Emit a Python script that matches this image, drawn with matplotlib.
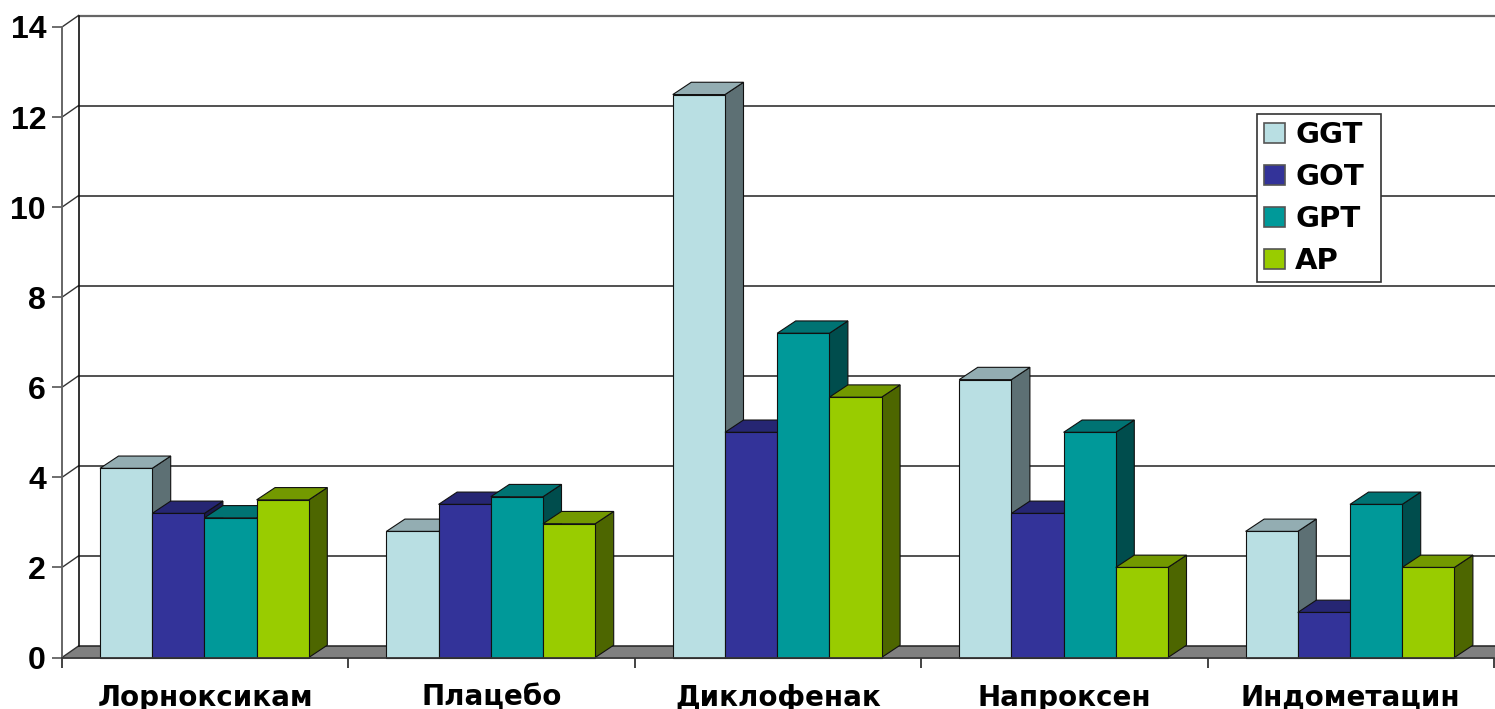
import matplotlib
matplotlib.use("Agg")
import matplotlib.pyplot as plt
from matplotlib.patches import Patch

plt.rcParams['font.family'] = ['Liberation Sans', 'DejaVu Sans']

categories = ["Лорноксикам", "Плацебо", "Диклофенак", "Напроксен", "Индометацин"]
series_names = ["GGT", "GOT", "GPT", "AP"]
ggt = [4.2, 2.8, 12.5, 6.17, 2.8]
got = [3.2, 3.4, 5.0, 3.2, 1.0]
gpt = [3.1, 3.57, 7.2, 5.0, 3.4]
ap = [3.5, 2.97, 5.78, 2.0, 2.0]
y_ticks = [0, 2, 4, 6, 8, 10, 12, 14]

front = ["#B9DFE3", "#333399", "#009999", "#99CC00"]
top = ["#93ADB2", "#262673", "#007373", "#739900"]
side = ["#5D7074", "#1A1A4D", "#004D4D", "#4D6600"]

W, H = 1495, 709
fig = plt.figure(figsize=(W / 100, H / 100), dpi=100)
# pixel box of the front plane
ax = fig.add_axes([62 / W, 1 - 657.5 / H, 1432 / W, 630.5 / H])
ax.set_xlim(0, 5)
ax.set_ylim(0, 14)

# px to data units
px_x = 5 / 1432
px_y = 14 / 630.5
wall_dx = 16.5 * px_x
wall_dy = 11.5 * px_y
bar_dx = 18.5 * px_x
bar_dy = 12.3 * px_y
bar_w = 52.2 * px_x
gap = 38 * px_x

# floor
ax.fill([0, wall_dx, 5.1, 5.1], [0, wall_dy, wall_dy, 0], color="#808080", lw=0, clip_on=False, zorder=1)

# back wall lines
for v in y_ticks:
    c = "#666666" if v == 14 else "#222222"
    ax.plot([0, wall_dx], [v, v + wall_dy], color="#333333", lw=1, clip_on=False, zorder=1.5)
    ax.plot([wall_dx, 5.1], [v + wall_dy, v + wall_dy], color=c, lw=1.1 if v != 14 else 1.6, clip_on=False, zorder=1.5)
ax.plot([wall_dx, wall_dx], [wall_dy, 14 + wall_dy], color="#111111", lw=1.2, clip_on=False, zorder=1.5)

# bars, drawn left to right so that the next bar hides the side of the last
z = 2
for i in range(len(categories)):
    for j, vals in enumerate([ggt, got, gpt, ap]):
        x0 = i + gap + j * bar_w
        x1 = x0 + bar_w
        v = vals[i]
        ax.fill([x1, x1 + bar_dx, x1 + bar_dx, x1], [0, bar_dy, v + bar_dy, v], facecolor=side[j],
                edgecolor="#111111", lw=0.8, clip_on=False, zorder=z)
        ax.fill([x0, x0 + bar_dx, x1 + bar_dx, x1], [v, v + bar_dy, v + bar_dy, v], facecolor=top[j],
                edgecolor="#111111", lw=0.8, clip_on=False, zorder=z)
        ax.bar(x0, v, bar_w, align="edge", color=front[j], edgecolor="#111111", lw=0.8, clip_on=False, zorder=z + 0.5)
        z += 1

for s in ["top", "right"]:
    ax.spines[s].set_visible(False)
ax.spines["left"].set_color("#666666")
ax.spines["left"].set_linewidth(1.4)
ax.spines["bottom"].set_color("#333333")
ax.spines["bottom"].set_linewidth(1.3)
ax.spines["bottom"].set_zorder(100)

ax.set_yticks(y_ticks)
ax.set_yticklabels([str(v) for v in y_ticks], fontsize=23, fontweight="bold")
ax.tick_params(axis="y", length=7.5, width=1.2, color="#555555", pad=4)
ax.set_xticks(range(6))
ax.set_xticklabels([])
ax.set_xticks([i + 0.5 for i in range(5)], minor=True)
ax.set_xticklabels(categories, minor=True, fontsize=20, fontweight="bold", family=["DejaVu Sans"])
ax.tick_params(axis="x", which="major", length=7, width=1.2, color="#222222")
ax.tick_params(axis="x", which="minor", length=0, pad=19)

handles = [Patch(facecolor=front[j], edgecolor="#555555", lw=1.2) for j in range(4)]
leg = ax.legend(handles, series_names, loc="upper left", bbox_to_anchor=(1257 / W, 1 - 114 / H, 124 / W, 0),
                bbox_transform=fig.transFigure, mode="expand", fancybox=False, framealpha=1, edgecolor="#333333",
                prop={"size": 21, "weight": "bold", "family": "DejaVu Sans"}, borderaxespad=0,
                handlelength=0.72, handleheight=0.68, handletextpad=0.34, labelspacing=0.475, borderpad=0.25)
leg.get_frame().set_linewidth(1.2)
leg.set_zorder(200)

fig.savefig("out.png", dpi=100)
